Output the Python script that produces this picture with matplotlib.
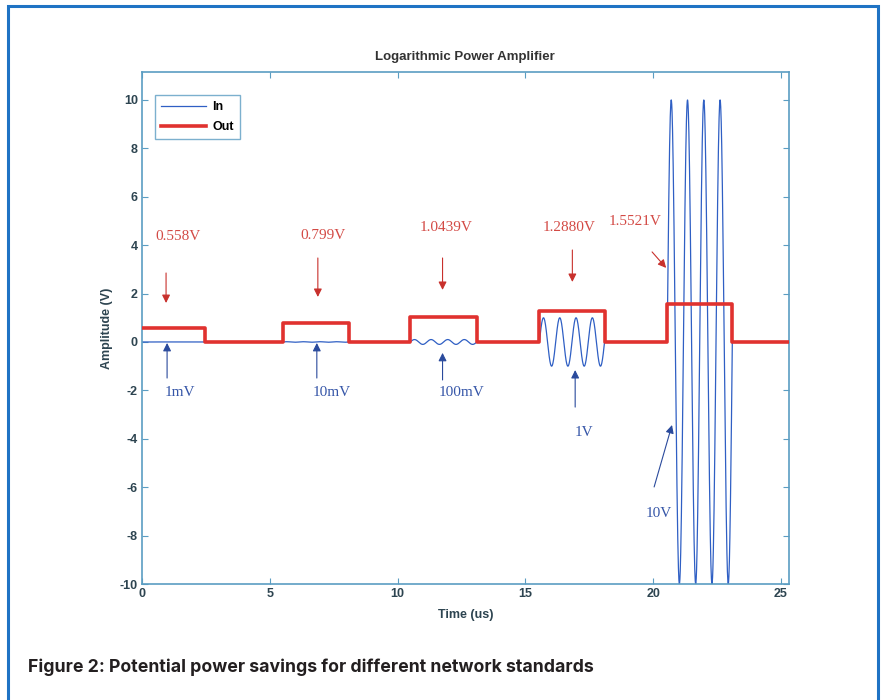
import numpy as np
import matplotlib
matplotlib.use("Agg")
import matplotlib.pyplot as plt
from matplotlib import font_manager
from matplotlib.font_manager import FontProperties
from matplotlib.textpath import TextPath
from matplotlib.patches import Rectangle

plt.rcParams["axes.unicode_minus"] = False

# ---------------- data ----------------
out_start = [0.0, 5.5, 10.5, 15.55, 20.55]
out_end = [2.45, 8.1, 13.1, 18.1, 23.1]
out_level = [0.558, 0.799, 1.0439, 1.2880, 1.5521]

in_amp = [0.001, 0.01, 0.1, 1.0, 10.0]
in_cycles = [4, 4, 4, 4, 4]

t_end = 25.3

out_labels = ["0.558V", "0.799V", "1.0439V", "1.2880V", "1.5521V"]
in_labels = ["1mV", "10mV", "100mV", "1V", "10V"]

xticks = [0, 5, 10, 15, 20, 25]
yticks = [-10, -8, -6, -4, -2, 0, 2, 4, 6, 8, 10]

caption = "Figure 2: Potential power savings for different network standards"

# ---------------- build series ----------------
t_out = [0.0]
y_out = [out_level[0]]
for s, e, v in zip(out_start, out_end, out_level):
    t_out += [s, s, e, e]
    y_out += [0.0 if s > 0 else v, v, v, 0.0]
t_out.append(t_end)
y_out.append(0.0)

t_in = [0.0]
y_in = [0.0]
for s, e, a, c in zip(out_start, out_end, in_amp, in_cycles):
    tt = np.linspace(s, e, 400)
    t_in += list(tt)
    y_in += list(a * np.sin(2 * np.pi * c * (tt - s) / (e - s)))
t_in.append(t_end)
y_in.append(0.0)

# ---------------- fonts ----------------
ttf = font_manager.fontManager.ttflist
names = {f.name for f in ttf}
sans = "Liberation Sans" if "Liberation Sans" in names else "DejaVu Sans"
serif = "Liberation Serif" if "Liberation Serif" in names else "DejaVu Serif"


def bold_face(n):
    for f in ttf:
        if f.name != n or f.style != "normal":
            continue
        w = f.weight
        if isinstance(w, str):
            w = font_manager.weight_dict.get(w, 400)
        if w >= 600:
            return True
    return False


# ---------------- layout / style ----------------
spine_c = "#5b9dc2"
tick_c = "#2d4450"
red = "#e0322f"
blue = "#2f5fc4"
red_txt = "#d34a45"
blue_txt = "#3656a8"

fig = plt.figure(figsize=(8.85, 7.0), dpi=100)
ax = fig.add_axes([0.1605, 0.1657, 0.7305, 0.7313])

ax.plot(t_in, y_in, color=blue, lw=0.9, label="In", zorder=2)
ax.plot(t_out, y_out, color=red, lw=2.6, label="Out", zorder=3)

ax.set_xlim(0, t_end)
ax.set_ylim(-10, 11.15)
ax.set_xticks(xticks)
ax.set_yticks(yticks)
ax.tick_params(direction="in", top=True, right=True, length=4, width=0.8,
               color=spine_c, labelsize=9, labelcolor=tick_c, pad=3)
for lab in ax.get_xticklabels() + ax.get_yticklabels():
    lab.set_fontfamily(sans)
    lab.set_fontweight("bold")
for sp in ax.spines.values():
    sp.set_color(spine_c)
    sp.set_linewidth(1.2)

ax.set_title("Logarithmic Power Amplifier", fontsize=9.5, family=sans,
             color="#333333", pad=9, fontweight="bold")
ax.set_xlabel("Time (us)", fontsize=9, family=sans, color=tick_c,
              fontweight="bold", labelpad=6)
ax.set_ylabel("Amplitude (V)", fontsize=9, family=sans, color=tick_c,
              fontweight="bold", labelpad=5)

leg = ax.legend(loc="upper left", bbox_to_anchor=(0.02, 0.955),
                borderaxespad=0, handlelength=3.6, frameon=True,
                fancybox=False, borderpad=0.5, labelspacing=0.6,
                handletextpad=0.5,
                prop=dict(family=sans, size=9, weight="bold"))
leg.get_frame().set_edgecolor(spine_c)
leg.get_frame().set_linewidth(1.0)

# annotation layout (label position, arrow tail, arrow tip)
out_lab_pos = [(1.41, 4.34), (7.07, 4.40), (11.91, 4.71), (16.72, 4.75), (19.3, 4.96)]
out_arrow = [((0.94, 2.85), (0.94, 1.61)), ((6.88, 3.47), (6.88, 1.86)),
             ((11.76, 3.47), (11.76, 2.15)), ((16.84, 3.8), (16.84, 2.48)),
             ((19.96, 3.72), (20.51, 3.06))]
in_lab_pos = [(1.48, -2.07), (7.42, -2.07), (12.5, -2.1), (17.3, -3.76), (20.23, -7.07)]
in_arrow = [((0.98, -1.49), (0.98, -0.04)), ((6.84, -1.49), (6.84, -0.04)),
            ((11.76, -1.57), (11.76, -0.45)), ((16.95, -2.69), (16.95, -1.16)),
            ((20.04, -5.99), (20.74, -3.43))]

for lab, (lx, ly), (tail, tip) in zip(out_labels, out_lab_pos, out_arrow):
    ax.text(lx, ly, lab, color=red_txt, fontsize=11, family=serif,
            ha="center", va="center", zorder=1.5)
    ax.annotate("", xy=tip, xytext=tail,
                arrowprops=dict(arrowstyle="-|>", color="#c8302c", lw=0.8,
                                mutation_scale=12, shrinkA=0, shrinkB=0))
for lab, (lx, ly), (tail, tip) in zip(in_labels, in_lab_pos, in_arrow):
    ax.text(lx, ly, lab, color=blue_txt, fontsize=11, family=serif,
            ha="center", va="center", zorder=1.5)
    ax.annotate("", xy=tip, xytext=tail,
                arrowprops=dict(arrowstyle="-|>", color="#2a4a9c", lw=0.8,
                                mutation_scale=12, shrinkA=0, shrinkB=0))

# page frame
fig.patches.append(Rectangle((7.5 / 885, -0.05), (878 - 7.5) / 885, (1.05 - 6 / 700),
                             transform=fig.transFigure, fill=False,
                             edgecolor="#1f73c4", lw=2.2, zorder=0))

# caption: choose the bold family whose cap height is closest to the
# reference (~13 px) when the line is sized to the reference width (~565 px)
cands = sorted(n for n in names if ("Narrow" in n or "Condensed" in n)
               and "Light" not in n and bold_face(n))
cands += [n for n in ["Roboto", "Lato", "Liberation Sans", "Open Sans",
                      "Inter", "DejaVu Sans"] if n in names]
renderer = fig.canvas.get_renderer()
best = None
for fam in cands:
    try:
        t = fig.text(0, 0, caption, fontsize=10, family=fam, weight="bold")
        w = t.get_window_extent(renderer).width
        t.remove()
        size = 10 * 565.0 / w
        fp = FontProperties(family=fam, weight="bold", size=10)
        cap10 = TextPath((0, 0), "F", size=10, prop=fp).get_extents().height
        cap_px = cap10 * size / 10 * 100 / 72
        score = abs(cap_px - 13.0)
    except Exception:
        continue
    if best is None or score < best[2]:
        best = (fam, size, score)
fam, size, _ = best
fig.text(28 / 885, 1 - 667 / 700, caption, fontsize=size, family=fam,
         weight="bold", color="#231f20", ha="left", va="center")

fig.savefig("out.png", dpi=100)
